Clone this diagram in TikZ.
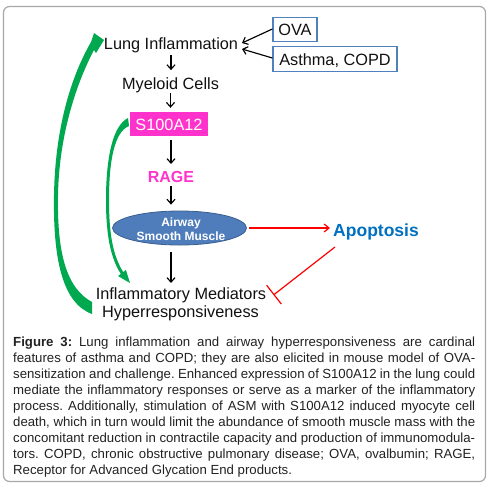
\documentclass[tikz,border=0pt]{standalone}
\usepackage{fontspec}
\setmainfont{Liberation Sans}
\usetikzlibrary{arrows.meta,shapes.geometric,calc}
\definecolor{grn}{HTML}{00A850}
\definecolor{mag}{HTML}{FF33CC}
\definecolor{boxblue}{HTML}{4F81BD}
\definecolor{ellfill}{HTML}{4F7DBB}
\definecolor{ellline}{HTML}{3A5F8E}
\definecolor{apblue}{HTML}{0070C0}
\definecolor{capcol}{HTML}{222222}
\definecolor{txtcol}{HTML}{111111}
\definecolor{framecol}{HTML}{A8A8A8}
\frenchspacing
\begin{document}
\begin{tikzpicture}[x=1pt,y=-1pt,
  lbl/.style={inner sep=0pt, anchor=base, text=txtcol, font=\fontsize{16.3}{19}\selectfont, text height=12pt, text depth=3.5pt},
  sbox/.style={inner sep=0pt, fill=mag, text=white, minimum width=78pt, minimum height=24pt, font=\fontsize{16.3}{19}\selectfont, text height=12.2pt, text depth=0pt},
  bbox/.style={inner sep=0pt, draw=boxblue, line width=1.3pt, fill=white, text=txtcol, minimum height=24.5pt, font=\fontsize{16.3}{19}\selectfont, text height=12pt, text depth=0pt},
  asmshape/.style={ellipse, inner sep=0pt, minimum width=134pt, minimum height=34pt, fill=ellfill, draw=ellline, line width=0.8pt},
  asmtext/.style={inner sep=0pt, text=white, align=center, font=\bfseries\fontsize{12}{14.3}\selectfont},
  aptext/.style={inner sep=0pt, anchor=base, text=apblue, font=\bfseries\fontsize{17.5}{20}\selectfont, text height=12.5pt, text depth=3.7pt},
  ragetext/.style={lbl, text=mag, font=\bfseries\fontsize{16}{19}\selectfont},
  arr/.style={-{Straight Barb[length=4.5pt,width=8pt]}, line width=1.15pt, draw=black},
  redarr/.style={-{Straight Barb[length=5pt,width=8pt]}, line width=1.2pt, draw=red},
  redbar/.style={-{Bar[width=24pt,line width=1.2pt]}, line width=1.2pt, draw=red},
  caption/.style={inner sep=0pt, anchor=north west, align=left, text=capcol, font=\fontsize{13.2}{16}\selectfont},
  frame/.style={draw=framecol, line width=1.2pt, rounded corners=6pt}
]
\useasboundingbox (0,0) rectangle (489,488);
\fill[white] (0,0) rectangle (489,488);
\draw[frame] (3.5,6.5) rectangle (485.5,481.5);

% nodes
\node[lbl] (lung) at (171,49.3) {Lung Inflammation};
\node[lbl] (myeloid) at (170.5,89.3) {Myeloid Cells};
\node[sbox] (s100) at (169,124) {S100A12};
\node[ragetext] (rage) at (171,182.7) {RAGE};
\node[asmshape] (asm) at (179.5,228) {};
\node[asmtext] (asmlbl) at (181,229.3) {Airway\\Smooth Muscle};
\node[lbl] (med) at (181,299.2) {Inflammatory Mediators};
\node[lbl] (hyp) at (180.5,317.5) {Hyperresponsiveness};
\node[aptext] (apop) at (376,236) {Apoptosis};
\node[bbox, minimum width=44pt] (ova) at (295,29.5) {OVA};
\node[bbox, minimum width=124pt] (asthma) at (335,59) {Asthma, COPD};

% free ends
\coordinate (inA) at (242,43);
\coordinate (inB) at (242,49);
\coordinate (redstart) at (335,247);
\coordinate (barend) at (273.5,295);

% black connectors
\draw[arr] ([yshift=0.5pt]ova.west) -- (inA);
\draw[arr] ([yshift=1pt]asthma.west) -- (inB);
\draw[arr, shorten <=2pt, shorten >=7pt] (lung.south) -- (lung.south |- myeloid.north);
\draw[arr, shorten >=4pt] (myeloid.south) -- (myeloid.south |- s100.north);
\draw[arr, shorten <=4pt, shorten >=6.5pt] (s100.south -| rage.south) -- (rage.north);
\draw[arr, shorten >=6pt] (rage.south) -- (rage.south |- asm.north);
\draw[arr, shorten <=7pt, shorten >=4pt] (asm.south -| rage.south) -- (med.north -| rage.south);

% red connectors
\draw[redarr, shorten <=2pt, shorten >=3pt] (asm.east) -- (asm.east -| apop.west);
\draw[redbar] (redstart) -- (barend);

% green curved arrows
\fill[grn] (92,314) .. controls (62,303) and (53,258) .. (54,195)
  .. controls (55,135) and (68,82) .. (91,42)
  -- (94,33) -- (104,40) -- (96,53) -- (94,50)
  .. controls (75,86) and (59,138) .. (58,195)
  .. controls (57,252) and (66,288) .. (92,302) -- cycle;
\fill[grn] (128,118) .. controls (112,126) and (106,160) .. (106,200)
  .. controls (106,240) and (112,260) .. (120.8,273.9)
  -- (118.1,276.1) -- (130,283) -- (125.9,269.9) -- (123.2,272.1)
  .. controls (114,257) and (109,238) .. (109,200)
  .. controls (109,162) and (114,132) .. (129,126) -- cycle;

% caption
\node[caption] (cap) at (13,336.4) {%
\makebox[462pt][s]{\textbf{Figure 3:} Lung inflammation and airway hyperresponsiveness are cardinal}\\
\makebox[462pt][s]{features of asthma and COPD; they are also elicited in mouse model of OVA-}\\
\makebox[462pt][s]{sensitization and challenge. Enhanced expression of S100A12 in the lung could}\\
\makebox[462pt][s]{mediate the inflammatory responses or serve as a marker of the inflammatory}\\
\makebox[462pt][s]{process. Additionally, stimulation of ASM with S100A12 induced myocyte cell}\\
\makebox[462pt][s]{death, which in turn would limit the abundance of smooth muscle mass with the}\\
\makebox[462pt][s]{concomitant reduction in contractile capacity and production of immunomodula-}\\
\makebox[462pt][s]{tors. COPD, chronic obstructive pulmonary disease; OVA, ovalbumin; RAGE,}\\
Receptor for Advanced Glycation End products.};
\end{tikzpicture}
\end{document}
